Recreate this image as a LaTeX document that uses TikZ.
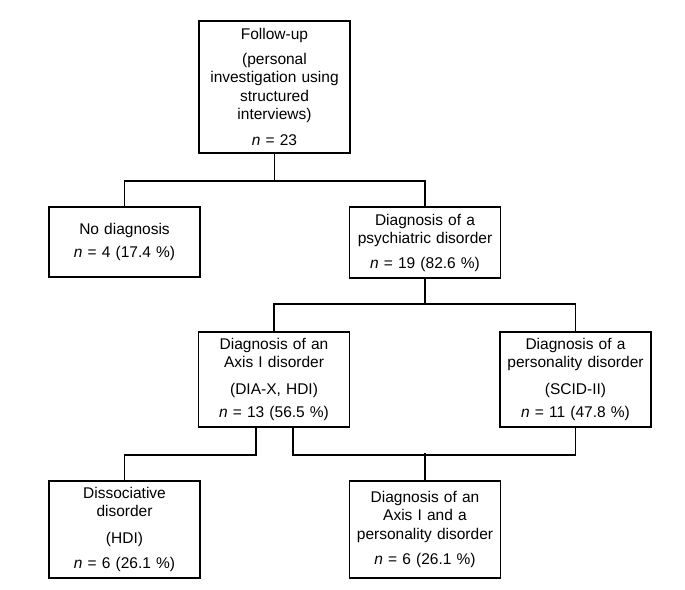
\documentclass[tikz,border=0pt]{standalone}
\usepackage{fontspec}
\setmainfont{Liberation Sans}
\tikzset{
  box/.style={draw, line width=1.6pt, text width=147pt, inner sep=2pt,
    align=center, font=\fontsize{15.5}{18.5}\selectfont},
  link/.style={line width=1.6pt}
}
\begin{document}
\begin{tikzpicture}[x=1pt,y=-1pt]
    \useasboundingbox (0,0) rectangle (685,589);
    % nivel 0
    \node[box, minimum height=132pt] (top) at (274.5,87)
        {Follow-up\\[6pt](personal\\investigation using\\structured\\interviews)\\[7pt]\textit{n} = 23};
    % nivel 1
    \node[box, minimum height=70pt] (nodiag) at (124.5,242)
        {No diagnosis\\[5pt]\textit{n} = 4 (17.4 \%)};
    \node[box, minimum height=71pt] (psych) at (425,242.5)
        {Diagnosis of a\\psychiatric disorder\\[6pt]\textit{n} = 19 (82.6 \%)};
    % nivel 2
    \node[box, minimum height=95pt] (axis) at (274,379.5)
        {Diagnosis of an\\Axis I disorder\\[8pt](DIA-X, HDI)\\[5pt]\textit{n} = 13 (56.5 \%)};
    \node[box, minimum height=95pt] (pers) at (575.5,379.5)
        {Diagnosis of a\\personality disorder\\[8pt](SCID-II)\\[5pt]\textit{n} = 11 (47.8 \%)};
    % nivel 3
    \node[box, minimum height=97pt] (diss) at (124.5,529.5)
        {Dissociative\\disorder\\[8pt](HDI)\\[7pt]\textit{n} = 6 (26.1 \%)};
    \node[box, minimum height=97pt] (both) at (425,529.5)
        {Diagnosis of an\\Axis I and a\\personality disorder\\[7pt]\textit{n} = 6 (26.1 \%)};
    % conexiones
    \draw[link] (top.south) -- ++(0,27) coordinate (split1) -| (nodiag.north);
    \draw[link] (split1) -| (psych.north);
    \draw[link] (psych.south) -- ++(0,25) coordinate (split2) -| (axis.north);
    \draw[link] (split2) -| (pers.north);
    \draw[link] ([xshift=-18pt]axis.south) -- ++(0,27) -| (diss.north);
    \draw[link] ([xshift=19pt]axis.south) -- ++(0,27) -| (pers.south);
    \draw[link] (both.north) -- ++(0,-27);
\end{tikzpicture}
\end{document}
